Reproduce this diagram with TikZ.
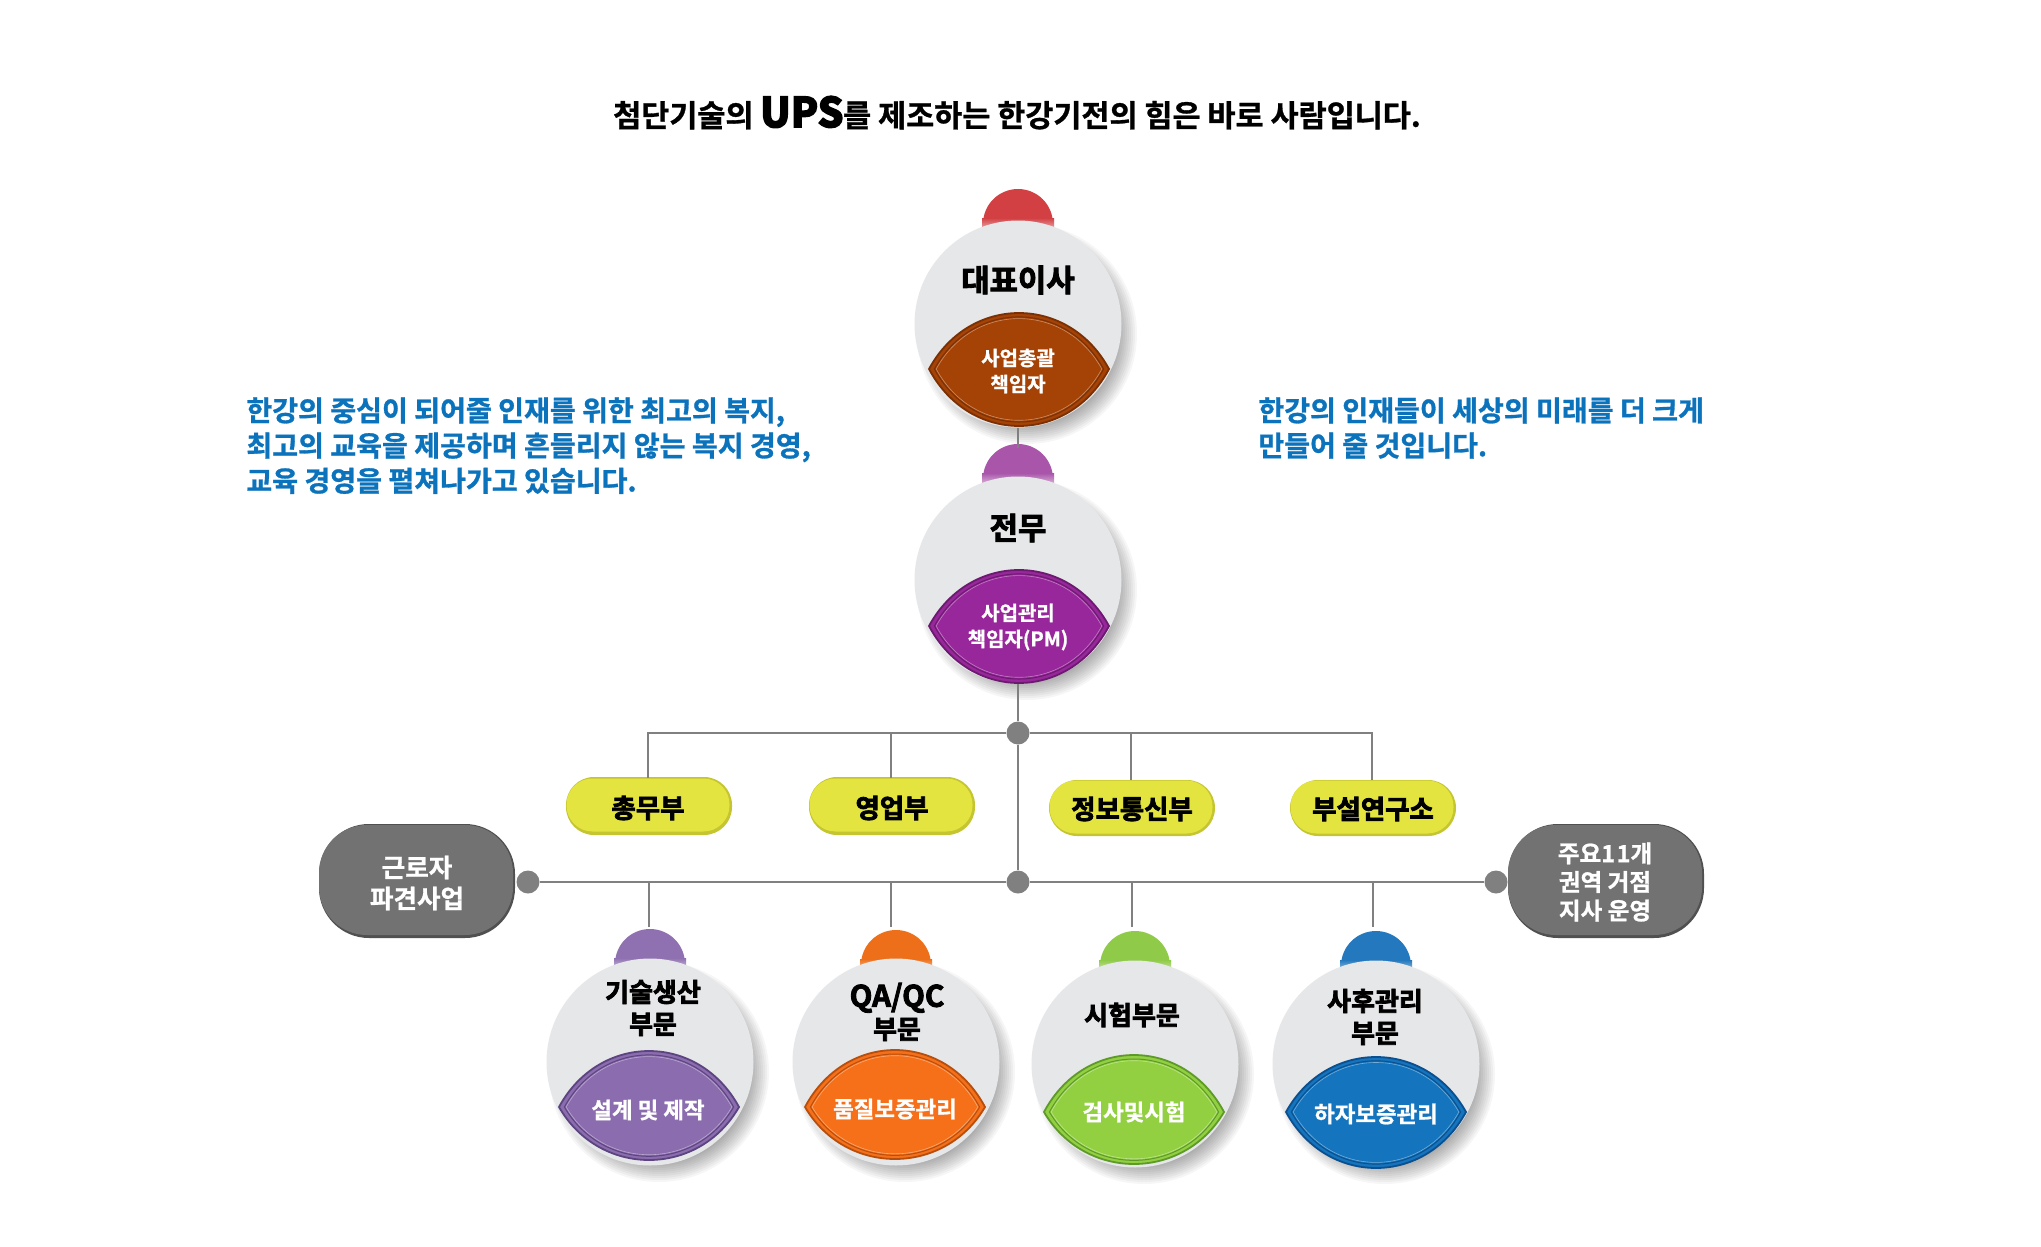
\documentclass[tikz,border=0pt]{standalone}
\usepackage{fontspec}
\setmainfont{Noto Sans CJK KR}
\newfontfamily\krb[FakeBold=1]{Noto Sans CJK KR Bold}
\newfontfamily\krh[FakeBold=3]{Noto Sans CJK KR Bold}
\newfontfamily\krx[FakeBold=6]{Noto Sans CJK KR Bold}
\usetikzlibrary{calc}
\definecolor{discgray}{HTML}{E6E7E9}
\definecolor{linegray}{HTML}{808080}
\definecolor{pillyellow}{HTML}{E3E440}
\definecolor{pillyellowdark}{HTML}{C4C530}
\definecolor{pillgray}{HTML}{727272}
\definecolor{pillgraydark}{HTML}{505050}
\definecolor{bluetext}{HTML}{0B72BC}
\definecolor{capred}{HTML}{D24044}\definecolor{lensbrown}{HTML}{A54205}\definecolor{rimbrown}{HTML}{7A3003}
\definecolor{cappurple}{HTML}{A955A9}\definecolor{lenspurple}{HTML}{97279A}\definecolor{rimpurple}{HTML}{6C1A70}
\definecolor{capviolet}{HTML}{8F70B0}\definecolor{lensviolet}{HTML}{8B6CAE}\definecolor{rimviolet}{HTML}{5C4480}
\definecolor{caporange}{HTML}{EE6F1A}\definecolor{lensorange}{HTML}{F6701A}\definecolor{rimorange}{HTML}{B84E0C}
\definecolor{capgreen}{HTML}{8FCB48}\definecolor{lensgreen}{HTML}{92D042}\definecolor{rimgreen}{HTML}{5E9A28}
\definecolor{capblue}{HTML}{2478BE}\definecolor{lensblue}{HTML}{1474BD}\definecolor{rimblue}{HTML}{0B4F8E}
\tikzset{
  x=0.5pt,y=-0.5pt,
  disc/.style={circle,fill=discgray,inner sep=0pt,minimum size=103.5pt},
  conn/.style={draw=linegray,line width=0.8pt},
  trunk/.style={draw=linegray,line width=1pt},
  junction/.style={circle,fill=linegray,inner sep=0pt,minimum size=11.5pt},
  yellowpill/.style={rectangle,rounded corners=13pt,fill=pillyellow,inner sep=0pt,minimum width=81.5pt,minimum height=26.5pt},
  graypill/.style={rectangle,rounded corners=24pt,fill=pillgray,inner sep=0pt,minimum width=97pt,minimum height=55pt},
  headtext/.style={align=center,text=black,inner sep=0pt,font=\krh\fontsize{13}{16}\selectfont},
  lenstext/.style={align=center,text=white,inner sep=0pt,font=\krb\fontsize{11.2}{14}\selectfont},
  pilltext/.style={align=center,text=black,inner sep=0pt,font=\krh\fontsize{13.2}{15}\selectfont},
  graytext/.style={align=center,text=white,inner sep=0pt},
  bodytext/.style={align=left,anchor=north west,text=bluetext,inner sep=0pt,font=\krb\fontsize{14.05}{17.6}\selectfont},
}
% cap half-disc, soft shadow and disc: #1 name, #2 x, #3 y of disc centre, #4 y of cap base, #5 colour
\newcommand{\orgdisc}[5]{%
  \begin{scope}
    \clip ({#2-36},{#4-40}) rectangle ({#2+36},{#4+7});
    \fill[#5] (#2,#4) circle[radius=35];
    \shade[top color=#5,bottom color=#5!35!white] ({#2-36},{#4-6}) rectangle ({#2+36},{#4+7});
  \end{scope}
  \foreach \r in {84,86,...,110}{\fill[black,opacity=0.034] ({#2+9},{#3+10}) circle[radius=\r];}
  \node[disc] (#1) at (#2,#3) {};
}
% pointed lens: #1 x, #2 y of tips, #3 half width, #4 rise, #5 fall, #6 fill, #7 rim
\newcommand{\orglens}[7]{%
  \begin{scope}[shift={(#1,#2)}]
    \fill[#6,draw=#7,line width=0.9pt] (-#3,0)
      .. controls ({-0.55*#3},{-1.333*#4}) and ({0.55*#3},{-1.333*#4}) .. (#3,0)
      .. controls ({0.55*#3},{1.333*#5}) and ({-0.55*#3},{1.333*#5}) .. cycle;
    \draw[#7,line width=0.5pt] ({-0.94*#3},0)
      .. controls ({-0.52*#3},{-1.24*#4}) and ({0.52*#3},{-1.24*#4}) .. ({0.94*#3},0)
      .. controls ({0.52*#3},{1.24*#5}) and ({-0.52*#3},{1.24*#5}) .. cycle;
    \draw[#6!60!white,line width=0.3pt] ({-0.92*#3},0)
      .. controls ({-0.51*#3},{-1.2*#4}) and ({0.51*#3},{-1.2*#4}) .. ({0.92*#3},0)
      .. controls ({0.51*#3},{1.2*#5}) and ({-0.51*#3},{1.2*#5}) .. cycle;
  \end{scope}
}
% bevel under a pill: #1 x, #2 y, #3 half w, #4 half h, #5 radius, #6 colour
\newcommand{\pillbevel}[6]{%
  \fill[#6,rounded corners=#5] ({#1-#3},{#2-#4}) rectangle ({#1+#3},{#2+#4});
}
\begin{document}
\begin{tikzpicture}
\useasboundingbox (0,0) rectangle (2041,1247);
\fill[white] (0,0) rectangle (2041,1247);

\node[inner sep=0pt,font=\krb\fontsize{15.25}{18}\selectfont] (title) at (1017,113)
  {첨단기술의 {\krx\fontsize{20}{20}\selectfont\addfontfeature{LetterSpace=2} UPS}를 제조하는 한강기전의 힘은 바로 사람입니다.};

\node[bodytext] (leftnote) at (246,397) {한강의 중심이 되어줄 인재를 위한 최고의 복지,\\최고의 교육을 제공하며 흔들리지 않는 복지 경영,\\교육 경영을 펼쳐나가고 있습니다.};
\node[bodytext] (rightnote) at (1258,397) {한강의 인재들이 세상의 미래를 더 크게\\만들어 줄 것입니다.};

% discs
\orgdisc{ceo}{1018}{324}{224}{capred}
\orgdisc{director}{1018}{580}{479}{cappurple}
\orgdisc{tech}{650}{1062}{964}{capviolet}
\orgdisc{qa}{896}{1062}{965}{caporange}
\orgdisc{test}{1135}{1064}{966}{capgreen}
\orgdisc{care}{1376}{1064}{966}{capblue}

\orglens{1019}{369}{90}{56}{57}{lensbrown}{rimbrown}
\orglens{1019}{626}{90}{56}{57}{lenspurple}{rimpurple}
\orglens{649}{1107}{90}{56}{53}{lensviolet}{rimviolet}
\orglens{895}{1107}{90}{57}{52}{lensorange}{rimorange}
\orglens{1134}{1112}{90}{57}{52}{lensgreen}{rimgreen}
\orglens{1376}{1112}{90}{55}{56}{lensblue}{rimblue}

% junctions
\node[junction] (upperhub) at (1018,733) {};
\node[junction] (lowerhub) at (1018,882) {};
\node[junction] (lefthub) at (528,882) {};
\node[junction] (righthub) at (1496,882) {};

% pills
\pillbevel{649}{806}{83}{29}{14pt}{pillyellowdark}
\pillbevel{892}{806}{83}{29}{14pt}{pillyellowdark}
\pillbevel{1132}{808}{83}{28}{14pt}{pillyellowdark}
\pillbevel{1373}{808}{83}{28}{14pt}{pillyellowdark}
\pillbevel{417}{881}{98}{57}{25pt}{pillgraydark}
\pillbevel{1606}{881}{98}{57}{25pt}{pillgraydark}
\node[yellowpill] (general) at (648,805) {};
\node[yellowpill] (sales) at (891,805) {};
\node[yellowpill] (it) at (1131,807) {};
\node[yellowpill] (lab) at (1372,807) {};
\node[graypill] (dispatch) at (416,880) {};
\node[graypill] (branch) at (1605,880) {};

% connectors
\draw[conn] (ceo.south) -- (director.south |- 0,448);
\draw[conn] (director.south) -- (upperhub.north);
\draw[conn] (upperhub.south) -- (lowerhub.north);
\draw[conn] (upperhub.west) -| (general.north);
\draw[conn] (upperhub.west) -| (sales.north);
\draw[conn] (upperhub.east) -| (it.north);
\draw[conn] (upperhub.east) -| (lab.north);
\draw[trunk] (lefthub.east) -- (lowerhub.west);
\draw[trunk] (lowerhub.east) -- (righthub.west);
\coordinate (techtop) at (649,927);
\coordinate (qatop) at (891,927);
\coordinate (testtop) at (1132,927);
\coordinate (caretop) at (1373,927);
\draw[conn] (techtop) -- (techtop |- lowerhub);
\draw[conn] (qatop) -- (qatop |- lowerhub);
\draw[conn] (testtop) -- (testtop |- lowerhub);
\draw[conn] (caretop) -- (caretop |- lowerhub);

% labels
\node[headtext,font=\krh\fontsize{15.4}{18}\selectfont] (t1) at (1018,280) {대표이사};
\node[lenstext,font=\krb\fontsize{10}{13}\selectfont] (t2) at (1018,371) {사업총괄\\책임자};
\node[headtext,font=\krh\fontsize{15.4}{18}\selectfont] (t3) at (1018,528) {전무};
\node[lenstext,font=\krb\fontsize{10}{13}\selectfont] (t4) at (1018,627) {사업관리\\책임자(PM)};
\node[headtext] (t5) at (653,1008) {기술생산\\부문};
\node[lenstext] (t6) at (648,1110) {설계 및 제작};
\node[headtext] (t7) at (897,1012) {{\fontsize{14.8}{16}\selectfont QA/QC}\\부문};
\node[lenstext] (t8) at (895,1109) {품질보증관리};
\node[headtext] (t9) at (1132,1015) {시험부문};
\node[lenstext] (t10) at (1134,1112) {검사및시험};
\node[headtext] (t11) at (1375,1017) {사후관리\\부문};
\node[lenstext] (t12) at (1376,1114) {하자보증관리};
\node[pilltext] (t13) at (648,808) {총무부};
\node[pilltext] (t14) at (892,808) {영업부};
\node[pilltext] (t15) at (1132,809) {정보통신부};
\node[pilltext] (t16) at (1373,809) {부설연구소};
\node[graytext,font=\krb\fontsize{12.8}{15.5}\selectfont] (t17) at (417,883) {근로자\\파견사업};
\node[graytext,font=\krb\fontsize{11.8}{14.3}\selectfont] (t18) at (1605,882) {주요{\addfontfeature{LetterSpace=6}11}개\\권역 거점\\지사 운영};
\end{tikzpicture}
\end{document}
